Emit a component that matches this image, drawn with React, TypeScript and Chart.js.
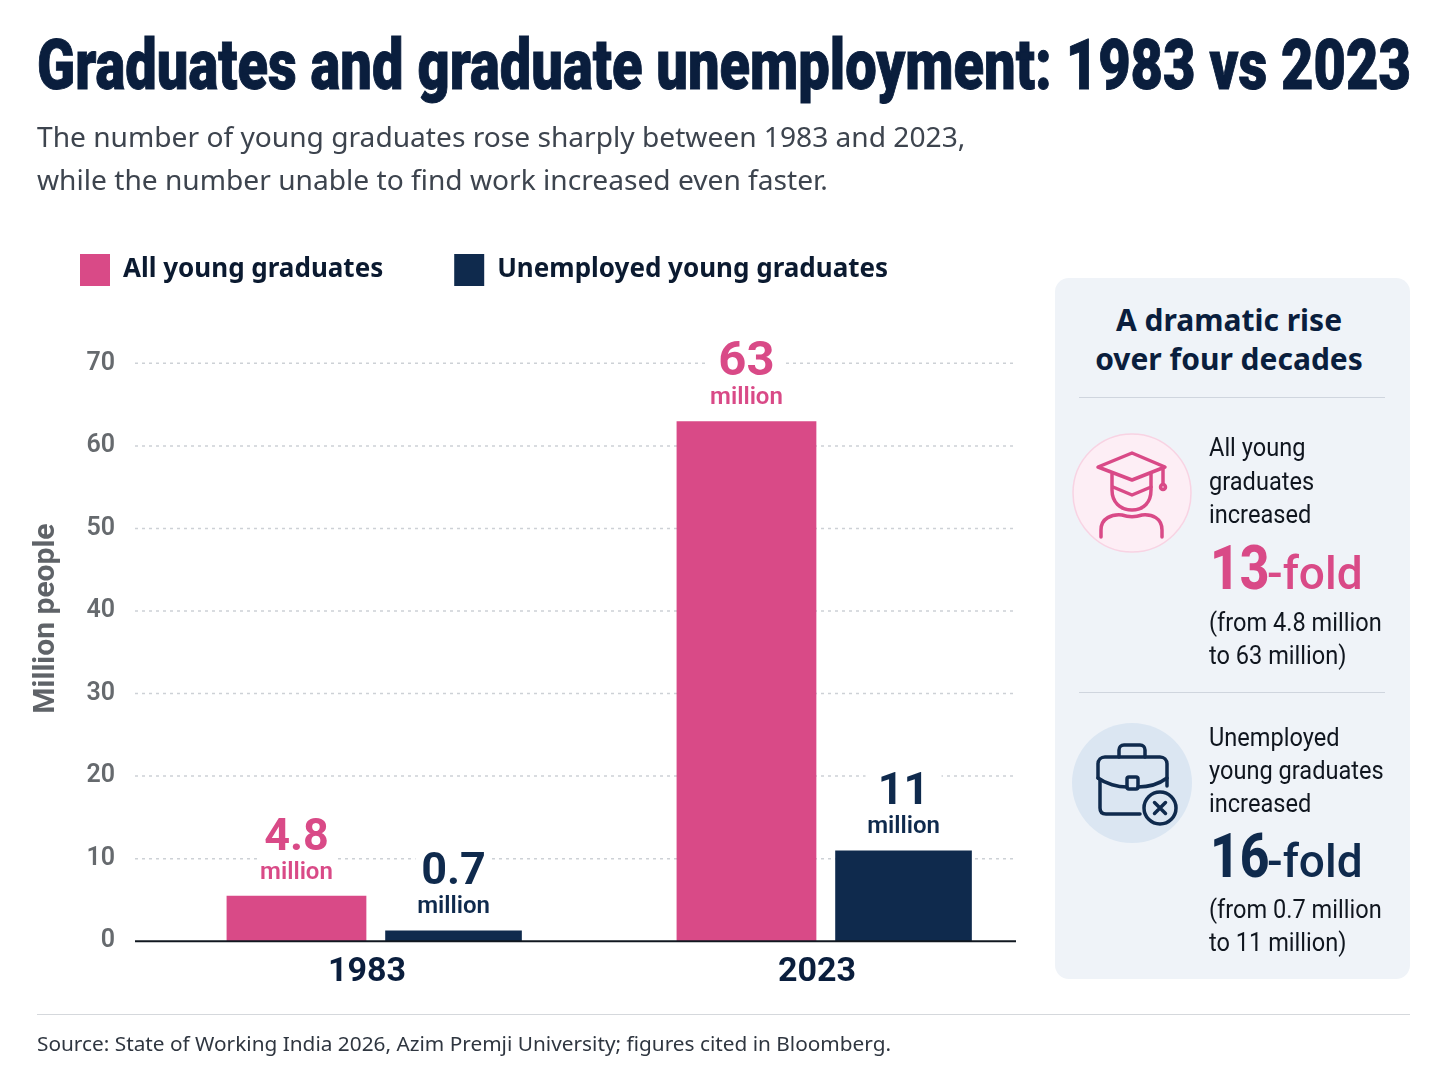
import { useEffect, useRef } from 'react'
import { Chart, registerables } from 'chart.js'

Chart.register(...registerables)

const years = ['1983', '2023']
const allLabel = 'All young graduates'
const unemployedLabel = 'Unemployed young graduates'
// bar heights as drawn in the picture; the printed labels are kept apart below
const allGraduates = [5.5, 63]
const unemployedGraduates = [1.3, 11]
const allText = ['4.8', '63']
const unemployedText = ['0.7', '11']
const yTicks = [0, 10, 20, 30, 40, 50, 60, 70]

const PINK = '#d94a87'
const NAVY = '#0f2a4d'
const INK = '#0a1e3d'

const barLabels = {
  id: 'barLabels',
  afterDatasetsDraw(chart: any) {
    const { ctx } = chart
    const texts = [allText, unemployedText]
    const colors = [PINK, NAVY]
    ctx.save()
    ctx.textAlign = 'center'
    ctx.textBaseline = 'alphabetic'
    chart.data.datasets.forEach((_: any, d: number) => {
      chart.getDatasetMeta(d).data.forEach((bar: any, i: number) => {
        const big = texts[d][i] === '63' ? 49 : 45
        ctx.fillStyle = '#ffffff'
        ctx.fillRect(bar.x - 38, bar.y - 83, 76, 72)
        ctx.fillStyle = colors[d]
        ctx.font = `700 ${big}px Roboto`
        ctx.fillText(texts[d][i], bar.x, bar.y - 46)
        ctx.font = '600 24px Roboto'
        ctx.fillText('million', bar.x, bar.y - 17)
      })
    })
    ctx.restore()
  },
}

// grid runs a little left of the plot area and stops short of its right edge
const gridLines = {
  id: 'gridLines',
  beforeDatasetsDraw(chart: any) {
    const { ctx, scales } = chart
    ctx.save()
    ctx.strokeStyle = '#cdd1d6'
    ctx.lineWidth = 1.5
    ctx.setLineDash([3, 4])
    yTicks.slice(1).forEach(t => {
      const y = scales.y.getPixelForValue(t)
      ctx.beginPath()
      ctx.moveTo(135, y)
      ctx.lineTo(1016, y)
      ctx.stroke()
    })
    ctx.restore()
  },
  afterDraw(chart: any) {
    const { ctx, scales } = chart
    const y = scales.y.getPixelForValue(0)
    ctx.save()
    ctx.strokeStyle = '#111820'
    ctx.lineWidth = 2
    ctx.beginPath()
    ctx.moveTo(135, y)
    ctx.lineTo(1016, y)
    ctx.stroke()
    ctx.restore()
  },
}

function abs(left: number, top: number, extra: any = {}): any {
  return { position: 'absolute', left, top, whiteSpace: 'nowrap', ...extra }
}

function PanelLine({ y, text }: any) {
  return (
    <div style={abs(1209, y - 20, { height: 40, lineHeight: '40px', fontSize: 25.5, color: '#10161f', fontFamily: 'Roboto', transform: 'scaleX(0.925)', transformOrigin: 'left center' })}>
      {text}
    </div>
  )
}

function Fold({ y, n, color }: any) {
  return (
    <div style={abs(1210, y - 40, { height: 80, lineHeight: '80px', color, fontFamily: 'Roboto' })}>
      <span style={{ display: 'inline-block', width: 57, fontSize: 62, fontWeight: 800, transform: 'scaleX(0.83)', transformOrigin: 'left center' }}>{n}</span>
      <span style={{ fontSize: 46, fontWeight: 500 }}>-fold</span>
    </div>
  )
}

export default function App() {
  const canvasRef = useRef<HTMLCanvasElement>(null)

  useEffect(() => {
    document.body.style.margin = '0'
    if (!canvasRef.current) return
    const chart = new Chart(canvasRef.current, {
      type: 'bar',
      data: {
        labels: years,
        datasets: [
          { label: allLabel, data: allGraduates, backgroundColor: PINK, categoryPercentage: 0.698, barPercentage: 0.89 },
          { label: unemployedLabel, data: unemployedGraduates, backgroundColor: NAVY, categoryPercentage: 0.698, barPercentage: 0.87 },
        ],
      },
      options: {
        responsive: false,
        animation: false,
        devicePixelRatio: 1,
        layout: { padding: { left: 9, right: 0, top: 0, bottom: 0 } },
        plugins: {
          tooltip: { enabled: false },
          legend: {
            position: 'top',
            align: 'start',
            onClick: () => {},
            labels: {
              boxWidth: 30,
              boxHeight: 32,
              padding: 71,
              color: '#0b1a30',
              font: { family: 'Noto Sans', size: 26, weight: 'bold' },
            },
          },
        },
        scales: {
          x: {
            grid: { display: false },
            border: { display: false },
            ticks: {
              color: INK,
              labelOffset: -8,
              padding: 3,
              font: { family: 'Roboto', size: 34, weight: 'bold' },
            },
          },
          y: {
            min: 0,
            max: 78.16,
            afterFit: (scale: any) => { scale.width = 141 },
            grid: { display: false },
            border: { display: false },
            title: {
              display: true,
              text: 'Million people',
              color: '#5f6368',
              padding: { top: 19, bottom: 0 },
              font: { family: 'Roboto', size: 30, weight: 'bold' },
            },
            ticks: {
              stepSize: 10,
              includeBounds: false,
              color: '#666a6e',
              padding: 27,
              font: { family: 'Roboto', size: 25, weight: 600 },
            },
          },
        },
      },
      plugins: [gridLines, barLabels],
    } as any)
    return () => chart.destroy()
  }, [])

  return (
    <div style={{ position: 'relative', width: 1448, height: 1086, background: '#ffffff', overflow: 'hidden', fontFamily: 'Noto Sans' }}>
      <canvas ref={canvasRef} width={1050} height={813} style={{ position: 'absolute', left: 0, top: 183 }} />

      <div style={abs(37, 20, { fontFamily: 'Roboto', fontWeight: 900, fontSize: 70, lineHeight: '90px', color: INK, WebkitTextStroke: `1px ${INK}`, transform: 'scaleX(0.8)', transformOrigin: 'left top' })}>
        Graduates and graduate unemployment: 1983 vs 2023
      </div>
      <div style={abs(37, 115, { fontSize: 28.15, lineHeight: '43px', color: '#3d444e' })}>
        The number of young graduates rose sharply between 1983 and 2023,
        <br />
        while the number unable to find work increased even faster.
      </div>

      <div style={abs(1055, 278, { width: 355, height: 701, background: '#eff3f8', borderRadius: 14 })} />
      <div style={abs(1055, 300, { width: 348, textAlign: 'center', fontSize: 30, lineHeight: '39px', fontWeight: 700, color: INK })}>
        A dramatic rise
        <br />
        over four decades
      </div>
      <div style={abs(1079, 397, { width: 306, height: 1, background: '#cfd5de' })} />
      <div style={abs(1079, 692, { width: 306, height: 1, background: '#cfd5de' })} />

      <svg width={1448} height={1086} style={{ position: 'absolute', left: 0, top: 0 }} fill="none" strokeLinecap="round" strokeLinejoin="round">
        <circle cx={1132} cy={493} r={59} fill="#fdeef5" stroke="#f8d3e3" strokeWidth={1.5} />
        <g stroke={PINK} strokeWidth={3.5}>
          <path d="M1098 467 L1132 453 L1165 467 L1132 480 Z" />
          <path d="M1112 474 V490 C1112 502 1120 510 1132 510 C1144 510 1151 502 1151 490 V474" />
          <path d="M1113 487 L1132 495 L1151 487" />
          <path d="M1101 537 V530 C1101 518 1112 514 1122 515 C1128 517 1136 517 1142 515 C1152 514 1162 518 1162 530 V537" />
          <path d="M1163 468 V484" />
          <circle cx={1163} cy={487} r={2.5} />
        </g>
        <circle cx={1132} cy={783} r={60} fill="#dbe6f2" />
        <g stroke={NAVY} strokeWidth={3.5}>
          <path d="M1119 757 V750 C1119 747 1121 745 1124 745 H1140 C1143 745 1145 747 1145 750 V757" />
          <path d="M1140 814 H1106 C1101 814 1100 811 1100 808 V780 M1098 778 V764 C1098 760 1101 757 1105 757 H1160 C1164 757 1167 760 1167 764 V786" />
          <path d="M1098 778 C1106 784 1118 787 1127 787 M1138 787 C1148 787 1159 784 1167 778" />
          <rect x={1127} y={777} width={11} height={12} rx={2} />
          <circle cx={1160} cy={808} r={16} fill="#dbe6f2" />
          <path d="M1154.5 802.5 L1165.5 813.5 M1165.5 802.5 L1154.5 813.5" />
        </g>
      </svg>

      <PanelLine y={447} text="All young" />
      <PanelLine y={481} text="graduates" />
      <PanelLine y={514} text="increased" />
      <Fold y={568} n="13" color={PINK} />
      <PanelLine y={622} text="(from 4.8 million" />
      <PanelLine y={655} text="to 63 million)" />

      <PanelLine y={737} text="Unemployed" />
      <PanelLine y={770} text="young graduates" />
      <PanelLine y={803} text="increased" />
      <Fold y={856} n="16" color={NAVY} />
      <PanelLine y={909} text="(from 0.7 million" />
      <PanelLine y={942} text="to 11 million)" />

      <div style={abs(37, 1014, { width: 1373, height: 1, background: '#d5d8dc' })} />
      <div style={abs(37, 1028, { fontSize: 20.8, lineHeight: '30px', color: '#2f3640' })}>
        Source: State of Working India 2026, Azim Premji University; figures cited in Bloomberg.
      </div>
    </div>
  )
}
